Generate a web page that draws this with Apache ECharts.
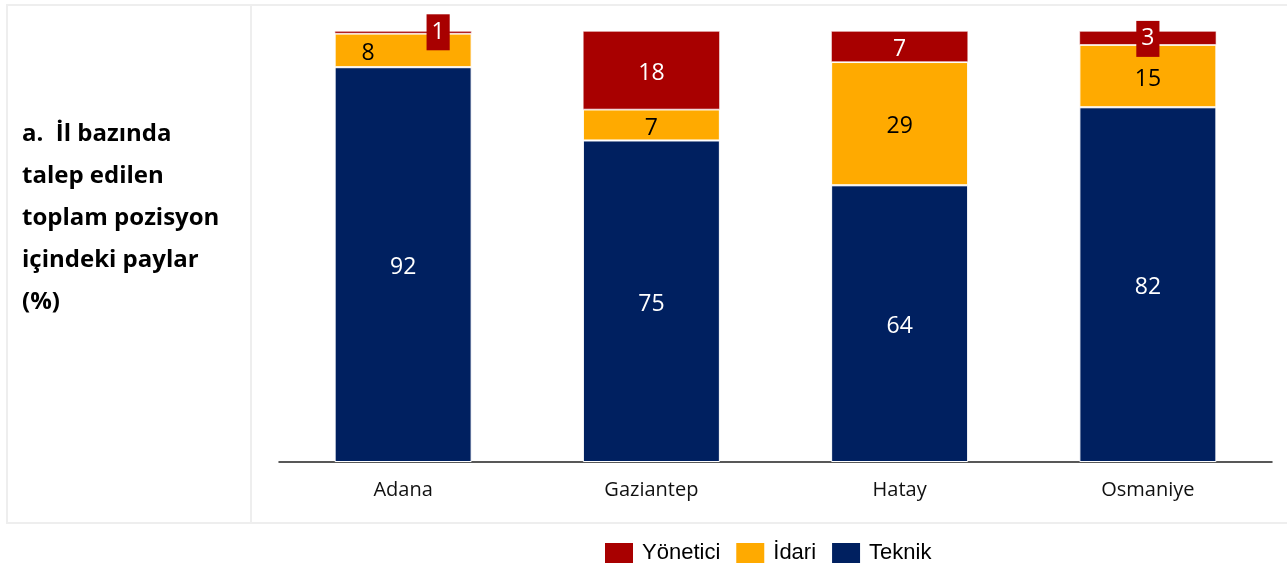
<!DOCTYPE html>
<html>
<head>
<meta charset="utf-8">
<script src="https://cdn.jsdelivr.net/npm/echarts@6/dist/echarts.min.js"></script>
<style>
  html, body { margin: 0; padding: 0; background: #fff; }
  #chart { width: 1287px; height: 564px; }
</style>
</head>
<body>
<div id="chart"></div>
<script>
const cities = ['Adana', 'Gaziantep', 'Hatay', 'Osmaniye']
const teknik = [91.6, 74.6, 64.2, 82.3]
const idari = [7.8, 7.2, 28.6, 14.5]
const yonetici = [0.6, 18.2, 7.2, 3.2]
const titleLines = ['a.  İl bazında', 'talep edilen', 'toplam pozisyon', 'içindeki paylar', '(%)']

const RED = '#A80000'
const ORANGE = '#FFAA00'
const NAVY = '#002060'
const FONT = '"Open Sans", "Noto Sans", sans-serif'

const roundLabel = p => Math.round(p.value)

// small labels in Adana get pushed sideways like the original
const idariData = idari.map((v, i) => i === 0 ? { value: v, label: { offset: [-35, 3] } } : v)
const boxed = { backgroundColor: RED, padding: [5, 5], lineHeight: 26 }
const yoneticiData = yonetici.map((v, i) => {
  if (i === 0) return { value: v, label: Object.assign({ offset: [35, 0] }, boxed) }
  if (v < 5) return { value: v, label: Object.assign({ offset: [0, 1] }, boxed) }
  return v
})

const chart = echarts.init(document.getElementById('chart'))
chart.setOption({
  animation: false,
  title: {
    text: titleLines.join('\n'),
    left: 22,
    top: 113,
    padding: 0,
    textStyle: { fontFamily: FONT, fontSize: 24, fontWeight: 'bold', color: '#000', lineHeight: 42 }
  },
  graphic: [
    { type: 'rect', shape: { x: 7, y: 5, width: 1286, height: 518 }, style: { fill: 'none', stroke: '#eeeeee', lineWidth: 2 }, silent: true },
    { type: 'line', shape: { x1: 251, y1: 5, x2: 251, y2: 523 }, style: { stroke: '#eeeeee', lineWidth: 2 }, silent: true }
  ],
  legend: {
    top: 541,
    left: 603,
    padding: 0,
    itemWidth: 30,
    itemHeight: 22,
    itemGap: 14,
    icon: 'rect',
    data: ['Yönetici', 'İdari', 'Teknik'],
    textStyle: { fontFamily: 'Liberation Sans, Arial, sans-serif', fontSize: 22, color: '#000', padding: [0, 0, 0, 3] }
  },
  grid: { left: 279, right: 15, top: 31, bottom: 102 },
  xAxis: {
    type: 'category',
    data: cities,
    axisLine: { lineStyle: { color: '#222', width: 1.5 } },
    axisTick: { show: false },
    axisLabel: { fontFamily: FONT, fontSize: 20, color: '#111', margin: 18 }
  },
  yAxis: { type: 'value', min: 0, max: 100, show: false, splitLine: { show: false } },
  series: [
    {
      name: 'Teknik', type: 'bar', stack: 'a', data: teknik, barWidth: 137,
      itemStyle: { color: NAVY, borderColor: '#fff', borderWidth: 1 },
      label: { show: true, position: 'inside', offset: [0, 3], formatter: roundLabel, color: '#fff', fontFamily: FONT, fontSize: 23 }
    },
    {
      name: 'İdari', type: 'bar', stack: 'a', data: idariData, barWidth: 137,
      itemStyle: { color: ORANGE, borderColor: '#fff', borderWidth: 1 },
      label: { show: true, position: 'inside', offset: [0, 3], formatter: roundLabel, color: '#000', fontFamily: FONT, fontSize: 23 }
    },
    {
      name: 'Yönetici', type: 'bar', stack: 'a', data: yoneticiData, barWidth: 137,
      itemStyle: { color: RED, borderColor: '#fff', borderWidth: 0.6 },
      label: { show: true, position: 'inside', offset: [0, 3], formatter: roundLabel, color: '#fff', fontFamily: FONT, fontSize: 23 }
    }
  ]
})
</script>
</body>
</html>
